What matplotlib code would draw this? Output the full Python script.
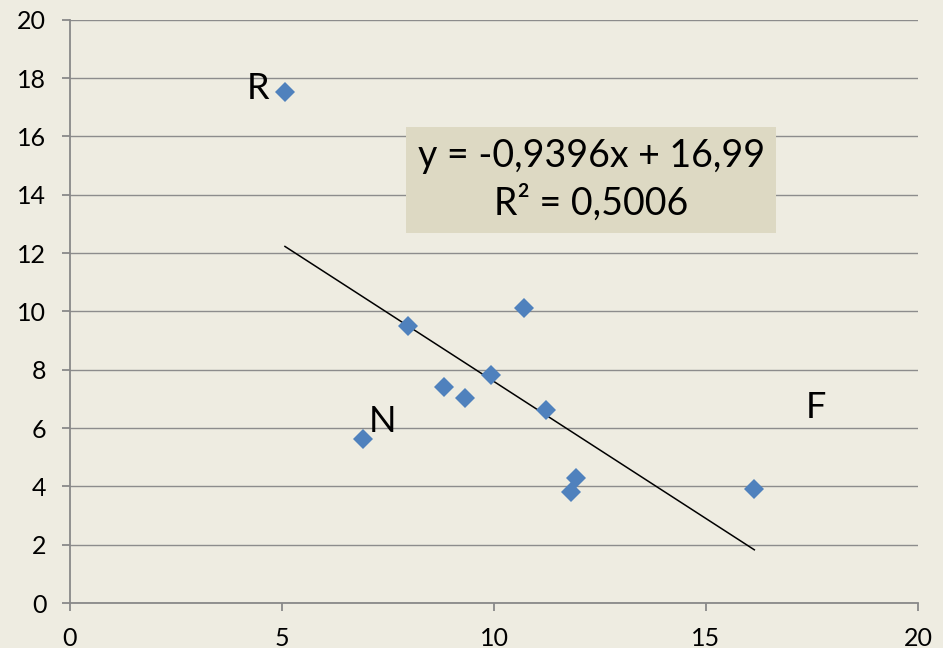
import matplotlib.pyplot as plt
import numpy as np

# data
x_vals = [5.07, 7.98, 10.70, 9.93, 8.82, 9.31, 11.22, 6.90, 11.94, 11.81, 16.14]
y_vals = [17.52, 9.51, 10.12, 7.82, 7.42, 7.02, 6.62, 5.61, 4.30, 3.82, 3.91]

slope = -0.9396
intercept = 16.99
r_squared = 0.5006

point_labels = ["R", "N", "F"]
label_x = [4.43, 7.38, 17.6]
label_y = [17.65, 6.24, 6.72]

ticks = [0, 5, 10, 15, 20]
yticks = list(range(0, 21, 2))

bg = "#EEECE1"
plt.rcParams['font.family'] = ['Lato', 'DejaVu Sans']

fig = plt.figure(figsize=(9.43, 6.48), dpi=100, facecolor=bg)
ax = fig.add_axes([0.0742, 0.0694, 0.8993, 0.9002])
ax.set_facecolor(bg)

ax.set_xlim(0, 20)
ax.set_ylim(0, 20)
ax.set_xticks(ticks)
ax.set_yticks(yticks)
ax.yaxis.grid(True, color="#8C8C8C", linewidth=1.0)
ax.set_axisbelow(True)

for s in ["top", "right"]:
    ax.spines[s].set_visible(False)
for s in ["left", "bottom"]:
    ax.spines[s].set_color("#898989")
    ax.spines[s].set_linewidth(1.3)
ax.tick_params(axis="both", direction="out", length=6, width=1.3,
               color="#898989", labelsize=18, pad=11)

# trendline over data range
xs = np.array([min(x_vals), max(x_vals)])
ax.plot(xs, slope * xs + intercept, color="black", linewidth=1.1, zorder=3)

ax.plot(x_vals, y_vals, linestyle="none", marker="D", markersize=10,
        color="#4F81BD", markeredgewidth=0, zorder=4)

for t, lx, ly in zip(point_labels, label_x, label_y):
    ax.text(lx, ly, t, fontsize=26, ha="center", va="center", zorder=5)

eq = f"y = {slope:.4f}x + {intercept:.2f}".replace(".", ",")
r2 = f"R² = {r_squared:.4f}".replace(".", ",")
ax.text(12.29, 14.5, eq + "\n" + r2, fontsize=27, ha="center", va="center",
        linespacing=1.35, zorder=5,
        bbox=dict(boxstyle="square,pad=0.3", facecolor="#DDD9C3",
                  edgecolor="none"))

fig.savefig("out.png", dpi=100, facecolor=bg)
